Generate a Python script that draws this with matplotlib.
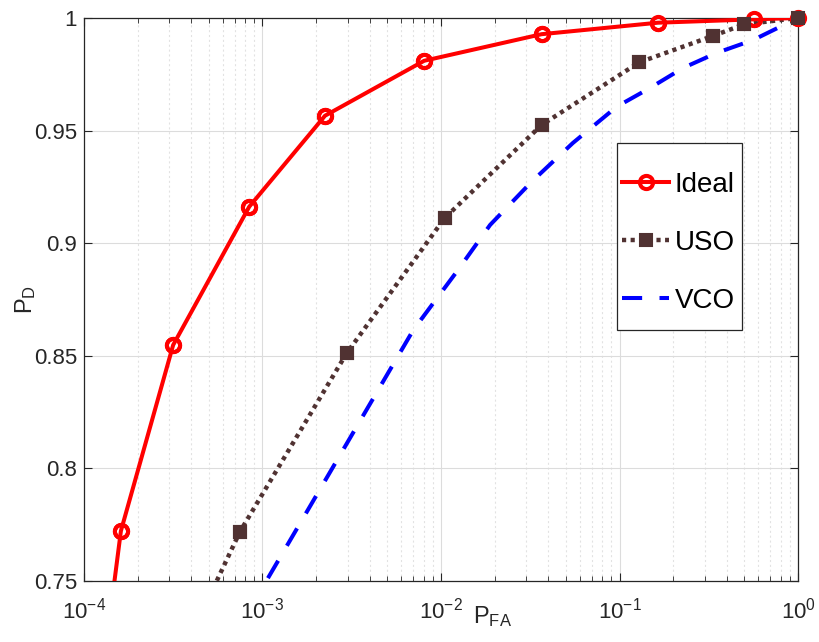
import matplotlib
matplotlib.use("Agg")
import matplotlib.pyplot as plt
from matplotlib.patches import Rectangle
from matplotlib.ticker import FixedLocator, FormatStrFormatter, LogLocator

plt.rcParams["font.family"] = ["Liberation Sans", "DejaVu Sans"]
plt.rcParams["mathtext.fontset"] = "custom"
plt.rcParams["mathtext.rm"] = "Liberation Sans"
plt.rcParams["mathtext.it"] = "Liberation Sans"
plt.rcParams["lines.scale_dashes"] = False

# ROC curves (P_FA, P_D)
ideal_pfa = [1.23e-4, 1.61e-4, 3.16e-4, 8.43e-4, 2.24e-3, 8.05e-3, 0.0366, 0.164, 0.569, 1.0]
ideal_pd = [0.70, 0.7722, 0.8548, 0.9162, 0.9566, 0.9810, 0.9928, 0.9979, 0.9994, 1.0]

uso_pfa = [2.79e-4, 7.48e-4, 2.96e-3, 0.0105, 0.0366, 0.129, 0.333, 0.50, 1.0]
uso_pd = [0.70, 0.7719, 0.8511, 0.9112, 0.9525, 0.9803, 0.9920, 0.9972, 1.0]

vco_pfa = [4.52e-4, 1.05e-3, 7.0e-3, 0.01245, 0.01884, 0.0322, 0.0548, 0.0964,
           0.148, 0.227, 0.35, 0.56, 1.0]
vco_pd = [0.70, 0.75, 0.8615, 0.8881, 0.9081, 0.9273, 0.9445, 0.9606,
          0.9689, 0.9778, 0.9845, 0.9902, 1.0]

yticks = [0.75, 0.8, 0.85, 0.9, 0.95, 1.0]
YMIN, YMAX = 0.75, 1.0


def visible(xs, ys):
    pts = [(x, y) for x, y in zip(xs, ys) if YMIN <= y <= YMAX]
    return [p[0] for p in pts], [p[1] for p in pts]


fig = plt.figure(figsize=(8.2, 6.42), dpi=100)
ax = fig.add_axes([0.1024, 0.095, 0.8708, 0.877])

red, brown, blue = "#ff0000", "#503232", "#0000ff"

ax.semilogx(ideal_pfa, ideal_pd, "-", color=red, lw=2.9, marker="o",
            ms=9.5, mew=2.9, mfc="none", label="Ideal", zorder=4)
ax.semilogx(*visible(ideal_pfa, ideal_pd), ls="none", color=red, marker="o",
            ms=9.5, mew=2.9, mfc="none", clip_on=False, zorder=4)
ax.semilogx(uso_pfa, uso_pd, color=brown, lw=3.2, dashes=(3, 3.2),
            marker="s", ms=8, mew=1.5, mfc=brown, label="USO", zorder=3)
ax.semilogx(*visible(uso_pfa, uso_pd), ls="none", color=brown, marker="s",
            ms=8, mew=1.5, mfc=brown, clip_on=False, zorder=5)
ax.semilogx(vco_pfa, vco_pd, color=blue, lw=2.9, dashes=(14.5, 12.5),
            dash_capstyle="butt", label="VCO", zorder=2)

ax.set_xlim(1e-4, 1)
ax.set_ylim(YMIN, YMAX)
ax.yaxis.set_major_locator(FixedLocator(yticks))
ax.yaxis.set_major_formatter(FormatStrFormatter("%g"))
ax.xaxis.set_major_locator(LogLocator(base=10, numticks=10))
ax.xaxis.set_minor_locator(LogLocator(base=10, subs=range(2, 10), numticks=20))

ax.grid(True, which="major", color="#dcdcdc", lw=0.8, ls="-")
ax.grid(True, which="minor", axis="x", color="#e2e2e2", lw=0.8, ls=(0, (1.5, 2)))
ax.set_axisbelow(True)

for s in ax.spines.values():
    s.set_color("#262626")
    s.set_linewidth(0.9)
ax.tick_params(which="both", direction="in", top=True, right=True,
               colors="#262626", labelsize=16)
ax.tick_params(which="major", length=6)
ax.tick_params(which="minor", length=3.5)
ax.tick_params(axis="x", pad=12)
ax.tick_params(axis="y", pad=5)

ax.text(0.545, -0.0746, r"$\mathrm{P}_{\mathrm{FA}}$", transform=ax.transAxes,
        fontsize=17, color="#262626", ha="left", va="baseline")
ax.text(-0.0994, 0.5, r"$\mathrm{P}_{\mathrm{D}}$", transform=ax.transAxes,
        fontsize=17, color="#262626", ha="left", va="center", rotation=90)

# legend: entries without frame, box drawn separately (MATLAB-style padding)
ax.add_patch(Rectangle((0.7465, 0.4458), 0.1751, 0.3322, transform=ax.transAxes,
                       facecolor="white", edgecolor="#262626", lw=0.9, zorder=6))
leg = ax.legend(loc="upper left", bbox_to_anchor=(0.7535, 0.727), fontsize=20,
                handlelength=1.7, handletextpad=0.2, labelspacing=1.15,
                borderpad=0, borderaxespad=0, frameon=False)
leg.set_zorder(7)

fig.savefig("out.png", dpi=100)
